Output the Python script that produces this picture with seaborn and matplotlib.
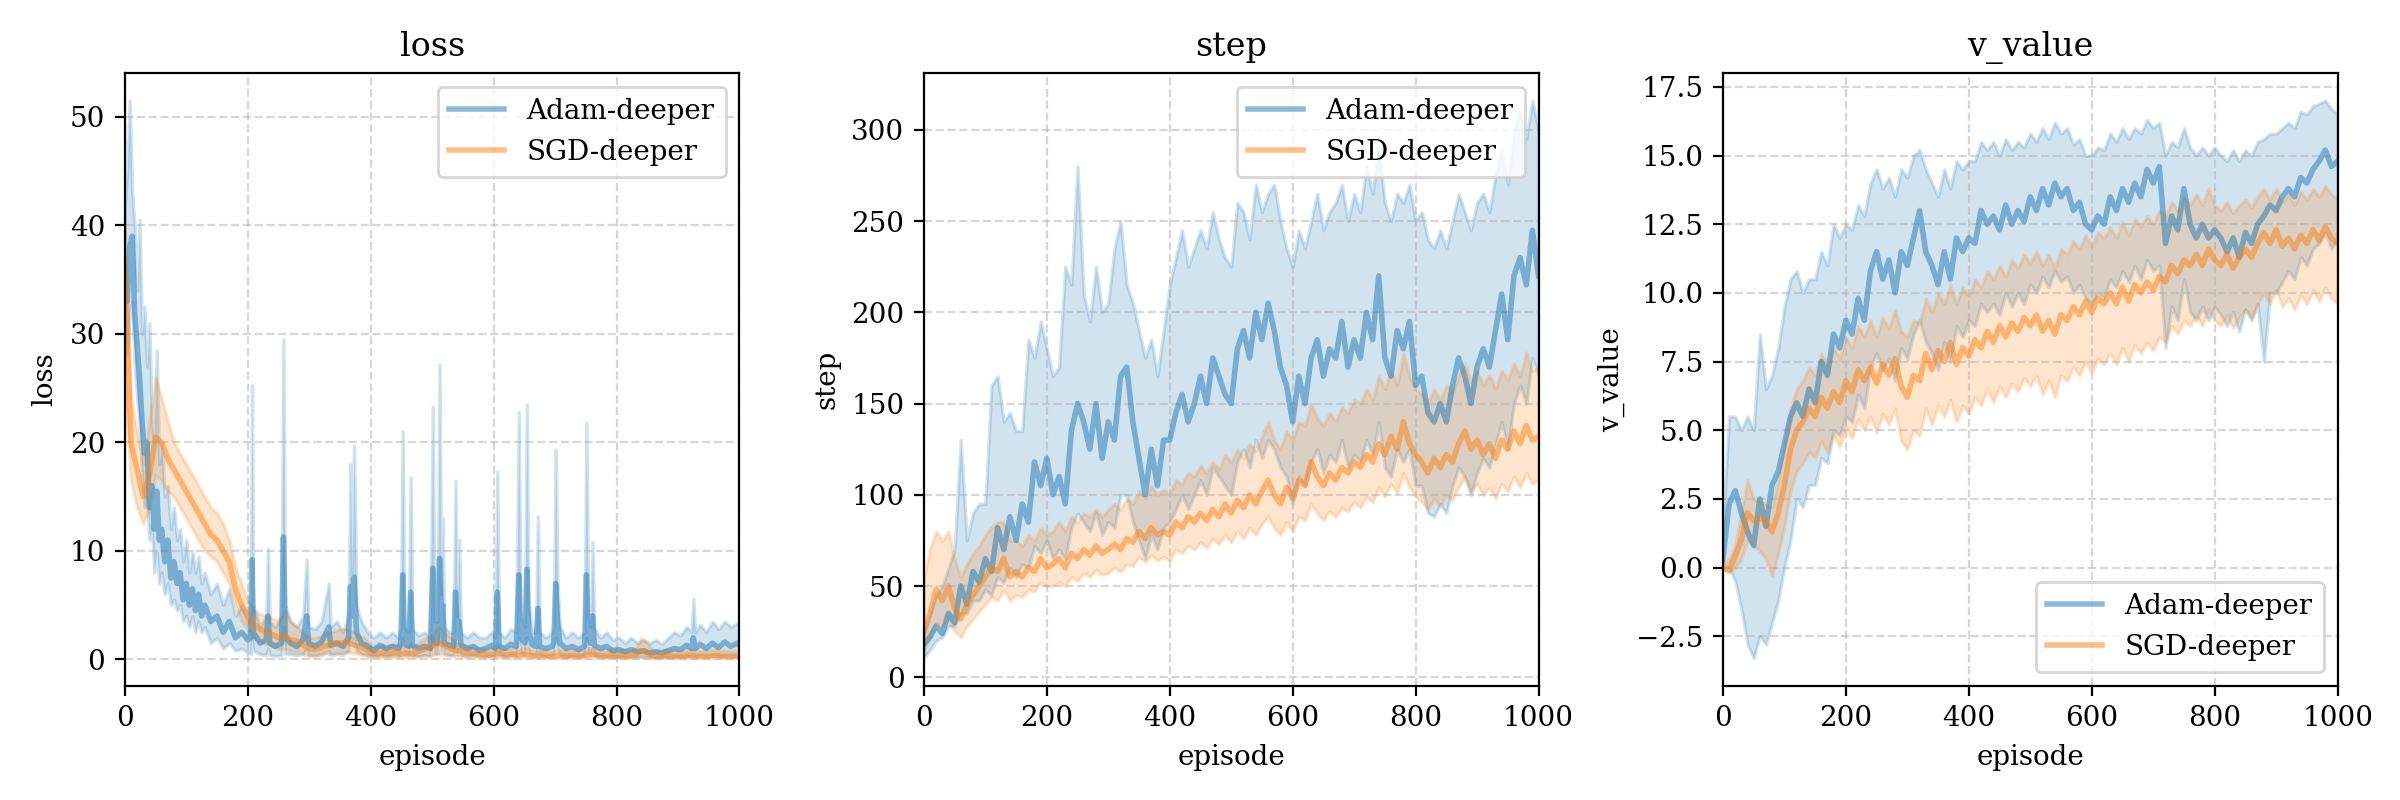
import numpy as np
import seaborn as sns
import matplotlib.pyplot as plt

# episodes on a 10-step grid (used by every series except the spiky Adam loss)
ep10 = np.arange(0, 1001, 10)

# ---- loss ----
loss_adam_ep = [0, 4, 8, 12, 16, 20, 24, 28, 32, 36,
                40, 44, 48, 52, 56, 60, 65, 70, 75, 80,
                85, 90, 95, 100, 105, 110, 115, 120, 125, 130,
                140, 150, 160, 170, 180, 190, 200, 205, 207, 209,
                220, 230, 233, 236, 245, 255, 258, 261, 270, 280,
                290, 296, 299, 310, 320, 332, 335, 345, 355, 364,
                367, 370, 373, 377, 385, 395, 405, 415, 425, 435,
                445, 449, 452, 455, 462, 465, 468, 478, 488, 497,
                501, 504, 509, 512, 515, 517, 520, 528, 535, 538,
                541, 544, 547, 557, 567, 577, 587, 597, 603, 606,
                609, 618, 628, 637, 641, 644, 651, 654, 657, 664,
                669, 672, 675, 685, 695, 698, 701, 704, 708, 718,
                728, 738, 748, 751, 754, 758, 761, 764, 774, 784,
                794, 804, 814, 824, 834, 844, 854, 864, 874, 884,
                894, 904, 914, 922, 925, 928, 936, 946, 956, 966,
                976, 986, 996, 1000]
loss_adam_mean = [36, 33, 38, 39, 32, 29, 26, 22, 19, 20,
                  14, 16, 12, 15.5, 11, 12, 9, 11, 7.5, 9,
                  7, 8, 5.5, 7, 5, 6.5, 4.5, 6, 4, 5,
                  3.5, 4, 2.5, 3.5, 2, 2.5, 1.8, 2, 9.2, 2.5,
                  1.5, 1.8, 4, 1.5, 1.2, 1.5, 11.3, 2, 1.5, 1.2,
                  1.8, 4, 1.5, 1.2, 1.6, 3, 1.3, 1.5, 1.2, 2,
                  6.7, 4, 7.6, 2.5, 1.5, 1.2, 0.8, 1.3, 1, 1.2,
                  1, 1.5, 7.8, 1.5, 1.2, 6.2, 1.3, 1, 1.2, 1,
                  8.4, 1.5, 1.5, 9.3, 3, 5, 1.5, 1.3, 1.2, 6.2,
                  2, 3.5, 1.3, 1, 1.2, 0.8, 1, 1.3, 1, 6.2,
                  1.2, 1, 1.4, 1.2, 7.8, 2, 1.5, 8.3, 2.5, 1.3,
                  1.2, 4.7, 1.2, 1, 1.2, 1.5, 7, 3.5, 1.5, 1,
                  1.2, 0.9, 1.2, 7.8, 2, 1.5, 4, 1.3, 1, 1.2,
                  0.8, 0.9, 0.7, 0.9, 0.7, 0.8, 0.6, 0.7, 0.6, 0.8,
                  1, 0.9, 1.3, 1, 2, 1, 1.4, 1, 1.5, 1.1,
                  1.6, 1.2, 1.5, 1.3]
loss_adam_lo = [30, 28, 32, 33, 27, 24, 22, 17, 14, 15,
                11, 12, 8, 10, 7, 8, 6, 7, 5, 5.5,
                4.5, 5, 3.5, 4, 3, 4, 2.5, 3.5, 2.5, 3,
                1.5, 2, 1, 1.5, 0.8, 1, 0.6, 0.5, 2, 0.8,
                0.5, 0.4, 1, 0.4, 0.3, 0.4, 3, 0.5, 0.5, 0.4,
                0.5, 1, 0.4, 0.4, 0.5, 0.8, 0.4, 0.5, 0.4, 0.8,
                2, 1.5, 2, 0.8, 0.5, 0.4, 0.3, 0.4, 0.3, 0.4,
                0.3, 0.5, 2, 0.5, 0.4, 1.5, 0.4, 0.3, 0.4, 0.3,
                2, 0.5, 0.5, 2.5, 0.8, 1.5, 0.5, 0.4, 0.4, 1.5,
                0.5, 1, 0.4, 0.3, 0.4, 0.3, 0.3, 0.4, 0.3, 1.5,
                0.4, 0.3, 0.4, 0.4, 2, 0.6, 0.5, 2, 0.6, 0.4,
                0.4, 1.2, 0.4, 0.3, 0.4, 0.4, 2, 1, 0.4, 0.3,
                0.3, 0.3, 0.4, 2, 0.6, 0.5, 1, 0.4, 0.3, 0.3,
                0.3, 0.3, 0.2, 0.3, 0.2, 0.2, 0.2, 0.2, 0.2, 0.2,
                0.3, 0.3, 0.3, 0.3, 0.5, 0.3, 0.4, 0.3, 0.4, 0.3,
                0.4, 0.3, 0.4, 0.3]
loss_adam_hi = [42, 45, 51.5, 43, 40, 34, 40.5, 30, 32.5, 27,
                31, 22, 20, 28.5, 18, 20, 15, 16, 12, 14,
                11, 12, 9, 11, 8, 10, 8, 9.5, 7, 8,
                6, 7, 5, 6.5, 4, 5, 3.5, 4, 25.3, 5,
                3, 4, 10.2, 3.5, 3, 4, 29.5, 5, 3.5, 3,
                4, 9.2, 3, 2.8, 3.5, 7, 3, 3.5, 2.5, 4,
                18, 8, 19.7, 5, 3.5, 2.5, 2, 2.5, 2, 2.5,
                2, 3, 21, 3, 2.5, 16.8, 2.8, 2.2, 2.5, 2,
                23.3, 3.5, 3.5, 27.2, 6, 13, 3, 2.5, 2.5, 16.5,
                4, 11, 2.5, 2, 2.5, 2, 2, 2.5, 2, 17.3,
                2.5, 2, 2.8, 2.5, 22.8, 4, 3, 23.5, 5, 2.5,
                2.5, 13.2, 2.5, 2, 2.5, 3, 19.3, 7, 3, 2,
                2.5, 2, 2.5, 21.8, 4, 3, 10.8, 2.8, 2, 2.5,
                1.8, 2, 1.5, 2, 1.5, 1.8, 1.5, 1.8, 1.4, 2,
                2.5, 2.2, 3, 2.5, 5.6, 2.5, 3.2, 2.5, 3.5, 2.8,
                3.5, 3, 3.3, 3]

loss_sgd_mean = [37, 20, 17.5, 15, 17, 20.5, 20, 18.5, 17.5, 16.5,
                 15.5, 14.5, 13.5, 12.5, 11.5, 11, 10, 9, 6.5, 5,
                 4, 3.2, 2.8, 2.5, 2.3, 2, 2.2, 1.8, 1.7, 1.3,
                 1.0, 0.9, 1.1, 1.3, 1.5, 1.5, 1.6, 1.4, 1.2, 1.0,
                 0.6, 0.5, 0.6, 0.5, 0.7, 0.5, 0.6, 0.5, 0.8, 1.0,
                 1.2, 1.5, 1.3, 1.0, 0.8, 0.7, 0.6, 0.5, 0.5, 0.4,
                 0.5, 0.6, 0.4, 0.5, 0.4, 0.5, 0.4, 0.3, 0.4, 0.3,
                 0.3, 0.4, 0.3, 0.4, 0.3, 0.4, 0.5, 0.4, 0.3, 0.4,
                 0.3, 0.4, 0.3, 0.4, 0.8, 0.6, 0.3, 0.3, 0.4, 0.3,
                 0.3, 0.3, 0.4, 0.3, 0.3, 0.3, 0.4, 0.3, 0.3, 0.3,
                 0.3]
loss_sgd_lo = [25, 16.5, 14, 12.5, 14, 17, 16.5, 15.5, 15, 14,
               13, 12, 11, 10, 9.5, 9, 8, 7, 5, 3.5,
               2.8, 2, 1.6, 1.4, 1.2, 1.0, 1.0, 0.8, 0.7, 0.5,
               0.3, 0.3, 0.4, 0.5, 0.6, 0.6, 0.7, 0.6, 0.5, 0.4,
               0.2, 0.2, 0.2, 0.2, 0.25, 0.2, 0.2, 0.2, 0.3, 0.35,
               0.4, 0.5, 0.45, 0.35, 0.3, 0.25, 0.2, 0.2, 0.2, 0.15,
               0.2, 0.2, 0.15, 0.2, 0.15, 0.2, 0.15, 0.12, 0.15, 0.12,
               0.12, 0.15, 0.12, 0.15, 0.12, 0.15, 0.2, 0.15, 0.12, 0.15,
               0.12, 0.15, 0.12, 0.15, 0.3, 0.2, 0.12, 0.12, 0.15, 0.12,
               0.12, 0.12, 0.15, 0.12, 0.12, 0.12, 0.15, 0.12, 0.12, 0.12,
               0.12]
loss_sgd_hi = [40, 24, 21, 18, 22, 26, 24, 22, 20, 19,
               18, 17, 16, 15, 14, 13.5, 12.5, 11, 8.5, 7,
               5.5, 4.5, 4.2, 4, 3.8, 3.5, 4.5, 3.5, 3, 2.5,
               2, 2, 2.2, 2.5, 2.6, 2.8, 2.8, 2.6, 2.2, 2,
               1.3, 1.2, 1.3, 1.2, 1.5, 1.2, 1.3, 1.2, 1.6, 2,
               2.2, 3, 2.5, 2, 1.6, 1.4, 1.2, 1.1, 1.1, 0.9,
               1.1, 1.3, 0.9, 1.1, 0.9, 1.1, 0.9, 0.8, 0.9, 0.8,
               0.8, 0.9, 0.8, 0.9, 0.8, 0.9, 1.1, 0.9, 0.8, 0.9,
               0.8, 0.9, 0.8, 0.9, 2.0, 1.5, 0.8, 0.8, 0.9, 0.8,
               0.8, 0.8, 0.9, 0.8, 0.8, 0.8, 0.9, 0.8, 0.8, 0.8,
               0.8]

# ---- step ----
step_adam_mean = [18, 22, 28, 24, 35, 30, 50, 40, 58, 52,
                  65, 58, 82, 70, 88, 75, 95, 85, 118, 105,
                  120, 100, 110, 95, 135, 150, 140, 125, 150, 120,
                  140, 130, 165, 170, 140, 120, 100, 125, 105, 130,
                  130, 145, 155, 140, 150, 165, 150, 175, 165, 155,
                  150, 180, 190, 175, 200, 185, 205, 190, 170, 160,
                  140, 165, 150, 175, 185, 165, 180, 175, 195, 170,
                  185, 175, 200, 185, 220, 175, 165, 190, 180, 195,
                  160, 165, 145, 140, 150, 140, 160, 175, 165, 150,
                  170, 180, 170, 190, 210, 185, 220, 230, 215, 245,
                  220]
step_adam_lo = [10.5, 15, 20, 22, 28, 28, 35, 35, 42, 42,
                48, 45, 55, 52, 60, 55, 62, 60, 72, 68,
                75, 65, 70, 65, 82, 90, 85, 80, 90, 78,
                85, 82, 100, 100, 85, 75, 65, 78, 70, 82,
                85, 92, 100, 92, 100, 108, 100, 115, 110, 105,
                100, 118, 125, 115, 130, 120, 130, 125, 115, 110,
                95, 110, 105, 118, 125, 112, 122, 118, 130, 115,
                122, 118, 130, 122, 140, 115, 110, 125, 118, 125,
                105, 105, 90, 88, 95, 90, 105, 115, 110, 100,
                112, 120, 115, 128, 140, 125, 150, 160, 150, 175,
                165]
step_adam_hi = [25, 35, 45, 50, 60, 70, 130, 75, 90, 95,
                95, 160, 165, 140, 145, 135, 135, 185, 175, 195,
                180, 165, 170, 225, 215, 280, 210, 195, 225, 200,
                205, 235, 250, 215, 205, 190, 175, 185, 165, 190,
                215, 230, 245, 225, 235, 245, 235, 255, 240, 230,
                225, 260, 255, 240, 270, 255, 265, 270, 250, 235,
                225, 245, 235, 250, 265, 245, 255, 260, 270, 250,
                265, 255, 280, 265, 290, 260, 250, 265, 260, 270,
                250, 255, 240, 235, 245, 235, 250, 265, 255, 245,
                260, 265, 255, 275, 290, 270, 300, 310, 295, 316,
                300]

step_sgd_mean = [25, 35, 48, 42, 50, 38, 32, 40, 45, 50,
                 55, 60, 58, 65, 55, 58, 55, 60, 58, 65,
                 60, 62, 65, 60, 68, 65, 70, 67, 72, 68,
                 70, 73, 70, 76, 74, 80, 76, 82, 78, 80,
                 78, 85, 82, 88, 85, 90, 86, 92, 88, 95,
                 90, 97, 93, 100, 95, 102, 108, 100, 95, 104,
                 98, 108, 105, 118, 110, 105, 112, 108, 115, 112,
                 118, 115, 122, 118, 128, 122, 132, 125, 140, 128,
                 122, 118, 112, 120, 115, 122, 118, 128, 135, 125,
                 130, 122, 128, 120, 130, 125, 135, 128, 138, 130,
                 132]
step_sgd_lo = [15, 22, 30, 28, 32, 25, 22, 28, 32, 36,
               40, 44, 42, 48, 42, 45, 44, 48, 47, 52,
               50, 50, 52, 50, 55, 53, 57, 55, 59, 56,
               57, 60, 58, 62, 61, 66, 63, 67, 64, 66,
               64, 70, 68, 72, 70, 74, 71, 76, 73, 78,
               74, 80, 76, 82, 78, 84, 88, 82, 78, 85,
               80, 88, 86, 95, 90, 86, 91, 88, 93, 91,
               96, 93, 99, 96, 104, 99, 106, 101, 112, 104,
               99, 96, 92, 98, 94, 100, 97, 104, 110, 102,
               106, 100, 104, 98, 106, 102, 110, 104, 112, 106,
               108]
step_sgd_hi = [55, 70, 80, 75, 80, 65, 55, 62, 68, 72,
               78, 82, 85, 85, 75, 75, 72, 78, 75, 82,
               78, 80, 85, 80, 88, 85, 90, 88, 92, 88,
               92, 95, 92, 98, 95, 102, 98, 105, 100, 103,
               100, 108, 106, 112, 110, 116, 112, 118, 114, 122,
               118, 125, 120, 128, 124, 132, 140, 130, 125, 135,
               130, 140, 138, 150, 142, 138, 145, 140, 148, 145,
               152, 150, 158, 152, 165, 158, 168, 160, 178, 165,
               158, 155, 150, 158, 152, 160, 156, 165, 172, 162,
               168, 160, 166, 158, 168, 163, 172, 165, 178, 168,
               170]

# ---- v_value ----
v_adam_mean = [0.3, 2.3, 2.8, 2.0, 1.3, 0.8, 2.5, 1.5, 3.0, 3.5,
               4.5, 5.5, 6.0, 5.5, 6.5, 6.0, 7.5, 7.0, 8.5, 8.0,
               9.0, 8.5, 9.8, 9.0, 10.8, 11.5, 10.5, 11.2, 10.0, 11.5,
               11.0, 12.0, 13.0, 11.5, 11.0, 10.3, 11.5, 10.5, 12.0, 11.5,
               12.0, 11.8, 13.0, 12.5, 12.8, 12.3, 13.2, 12.5, 13.0, 12.6,
               13.5, 13.0, 13.8, 13.2, 14.0, 13.5, 13.8, 13.0, 13.3, 12.5,
               12.3, 12.8, 12.5, 13.5, 13.0, 13.8, 13.3, 14.0, 13.5, 14.5,
               14.0, 14.6, 11.8, 12.8, 12.3, 13.8, 12.5, 12.0, 12.5, 12.0,
               12.3, 12.0, 11.5, 12.0, 11.3, 12.2, 11.8, 12.5, 12.8, 13.2,
               13.0, 13.5, 13.8, 13.5, 14.2, 14.0, 14.5, 14.8, 15.2, 14.6,
               14.8]
v_adam_lo = [0.0, 0.0, -0.5, -1.5, -2.8, -3.3, -2.5, -2.8, -2.0, -1.2,
             0.0, 1.0, 2.5, 2.2, 3.0, 3.0, 4.0, 3.8, 5.0, 4.8,
             5.5, 5.3, 6.3, 5.8, 7.3, 7.8, 7.2, 7.6, 6.8, 8.0,
             7.6, 8.5, 9.0, 8.2, 7.8, 7.2, 8.2, 7.5, 8.8, 8.4,
             9.0, 8.8, 9.6, 9.3, 9.6, 9.2, 10.0, 9.5, 10.0, 9.6,
             10.3, 10.0, 10.6, 10.2, 10.8, 10.4, 10.6, 10.0, 10.3, 9.8,
             9.6, 10.0, 9.8, 10.5, 10.2, 10.8, 10.4, 11.0, 10.5, 11.2,
             10.8, 11.0, 8.0, 9.5, 9.0, 10.5, 9.3, 9.0, 9.5, 9.0,
             9.5, 9.2, 8.8, 9.3, 8.6, 9.4, 9.0, 9.6, 7.5, 10.0,
             10.0, 10.4, 10.8, 10.5, 11.3, 11.0, 11.6, 11.8, 12.2, 11.6,
             12.0]
v_adam_hi = [1.5, 5.5, 5.5, 5.0, 5.5, 5.0, 8.5, 6.5, 7.0, 8.0,
             9.5, 10.5, 10.8, 10.0, 10.5, 10.5, 11.5, 11.0, 12.5, 12.0,
             12.5, 12.3, 13.2, 12.8, 14.0, 14.5, 13.8, 14.2, 13.5, 14.5,
             14.2, 15.0, 15.2, 14.5, 14.0, 13.5, 14.5, 13.8, 14.8, 14.5,
             14.8, 14.8, 15.5, 15.2, 15.5, 15.0, 15.6, 15.2, 15.5, 15.3,
             15.8, 15.5, 16.0, 15.6, 16.2, 15.8, 16.0, 15.4, 15.6, 15.0,
             15.0, 15.3, 15.2, 15.8, 15.5, 16.0, 15.6, 16.0, 15.8, 16.3,
             16.0, 16.2, 15.0, 15.5, 15.3, 16.0, 15.3, 15.0, 15.3, 15.0,
             15.3, 15.0, 14.8, 15.2, 14.8, 15.2, 15.0, 15.5, 15.6, 15.8,
             15.8, 16.0, 16.2, 16.0, 16.6, 16.5, 16.8, 16.9, 17.0, 16.7,
             16.5]

v_sgd_mean = [0.0, -0.1, 0.4, 1.0, 2.0, 1.7, 1.8, 1.7, 1.3, 2.0,
              3.0, 4.3, 5.0, 5.3, 5.8, 5.5, 6.2, 5.8, 6.4, 6.0,
              6.8, 6.4, 7.2, 6.8, 7.3, 6.7, 7.4, 7.0, 7.6, 6.6,
              6.2, 7.0, 6.8, 7.8, 7.2, 7.9, 7.5, 8.2, 7.4, 8.0,
              7.7, 8.3, 8.0, 8.6, 8.2, 8.8, 8.4, 8.9, 8.6, 9.1,
              8.8, 9.2, 8.6, 9.0, 8.5, 9.2, 9.0, 9.5, 9.2, 9.7,
              9.3, 9.8, 9.6, 10.0, 9.6, 10.2, 9.7, 10.3, 10.0, 10.4,
              10.1, 10.6, 10.4, 11.0, 10.7, 11.2, 11.0, 11.4, 11.0, 11.6,
              11.2, 11.0, 11.4, 10.9, 11.3, 11.6, 11.3, 11.8, 12.2, 11.8,
              12.3, 11.7, 12.0, 11.6, 12.1, 11.8, 12.3, 11.9, 12.4, 12.0,
              11.8]
v_sgd_lo = [-0.1, -0.2, 0.0, 0.3, 1.0, 0.8, 0.6, 0.3, -0.3, 0.5,
            1.5, 2.8, 3.5, 3.8, 4.2, 4.0, 4.6, 4.2, 4.8, 4.4,
            5.1, 4.7, 5.4, 5.0, 5.5, 4.9, 5.6, 5.2, 5.8, 4.6,
            4.3, 5.0, 4.8, 5.8, 5.2, 5.9, 5.5, 6.1, 5.3, 5.9,
            5.6, 6.2, 5.9, 6.5, 6.0, 6.6, 6.2, 6.7, 6.4, 6.9,
            6.6, 7.0, 6.3, 6.8, 6.2, 7.0, 6.8, 7.3, 7.0, 7.5,
            7.1, 7.6, 7.4, 7.8, 7.4, 8.0, 7.5, 8.1, 7.8, 8.2,
            7.9, 8.4, 8.2, 8.8, 8.5, 9.0, 8.8, 9.2, 8.8, 9.4,
            9.0, 8.8, 9.2, 8.7, 9.1, 9.4, 9.1, 9.6, 10.0, 9.6,
            10.1, 9.5, 9.8, 9.4, 9.9, 9.6, 10.1, 9.7, 10.2, 9.8,
            9.6]
v_sgd_hi = [0.1, 0.3, 0.8, 2.0, 3.2, 2.5, 2.4, 2.3, 2.2, 3.2,
            4.5, 5.8, 6.5, 6.8, 7.3, 7.0, 7.8, 7.4, 8.0, 7.6,
            8.4, 8.0, 8.8, 8.4, 9.0, 8.4, 9.1, 8.7, 9.4, 8.6,
            8.4, 9.0, 8.9, 9.8, 9.3, 10.0, 9.6, 10.3, 9.6, 10.2,
            9.9, 10.5, 10.2, 10.8, 10.5, 11.0, 10.6, 11.2, 10.9, 11.4,
            11.1, 11.5, 11.0, 11.4, 10.9, 11.6, 11.4, 11.9, 11.6, 12.1,
            11.7, 12.2, 12.0, 12.4, 12.0, 12.6, 12.1, 12.7, 12.4, 12.8,
            12.5, 13.0, 12.8, 13.3, 13.0, 13.5, 13.2, 13.6, 13.2, 13.8,
            13.2, 13.0, 13.3, 12.9, 13.2, 13.4, 13.1, 13.5, 13.8, 13.4,
            13.8, 13.3, 13.6, 13.2, 13.7, 13.4, 13.8, 13.5, 13.9, 13.6,
            13.4]

labels = ["Adam-deeper", "SGD-deeper"]
colors = ["#1f77b4", "#ff7f0e"]

panels = [
    ("loss", [(loss_adam_ep, loss_adam_mean, loss_adam_lo, loss_adam_hi),
              (ep10, loss_sgd_mean, loss_sgd_lo, loss_sgd_hi)], "upper right"),
    ("step", [(ep10, step_adam_mean, step_adam_lo, step_adam_hi),
              (ep10, step_sgd_mean, step_sgd_lo, step_sgd_hi)], "upper right"),
    ("v_value", [(ep10, v_adam_mean, v_adam_lo, v_adam_hi),
                 (ep10, v_sgd_mean, v_sgd_lo, v_sgd_hi)], "lower right"),
]

# plain matplotlib look, serif text
plt.rcParams["font.family"] = ["DejaVu Serif"]
plt.rcParams["font.size"] = 10

fig, axes = plt.subplots(1, 3, figsize=(12, 4), dpi=200)
fig.subplots_adjust(left=0.052, right=0.974, bottom=0.1425, top=0.909, wspace=0.3)

for ax, (name, series, loc) in zip(axes, panels):
    for (ep, mean, lo, hi), lab, col in zip(series, labels, colors):
        ax.fill_between(ep, lo, hi, color=col, alpha=0.2, linewidth=1.2)
        sns.lineplot(x=ep, y=mean, ax=ax, color=col, alpha=0.5,
                     linewidth=2, label=lab, estimator=None)
    ax.set_xlim(0, 1000)
    ax.set_title(name, fontsize=12)
    ax.set_xlabel("episode")
    ax.set_ylabel(name)
    ax.grid(True, linestyle="--", alpha=0.5)
    ax.legend(loc=loc)

fig.savefig("out.png", dpi=200)
plt.close(fig)
